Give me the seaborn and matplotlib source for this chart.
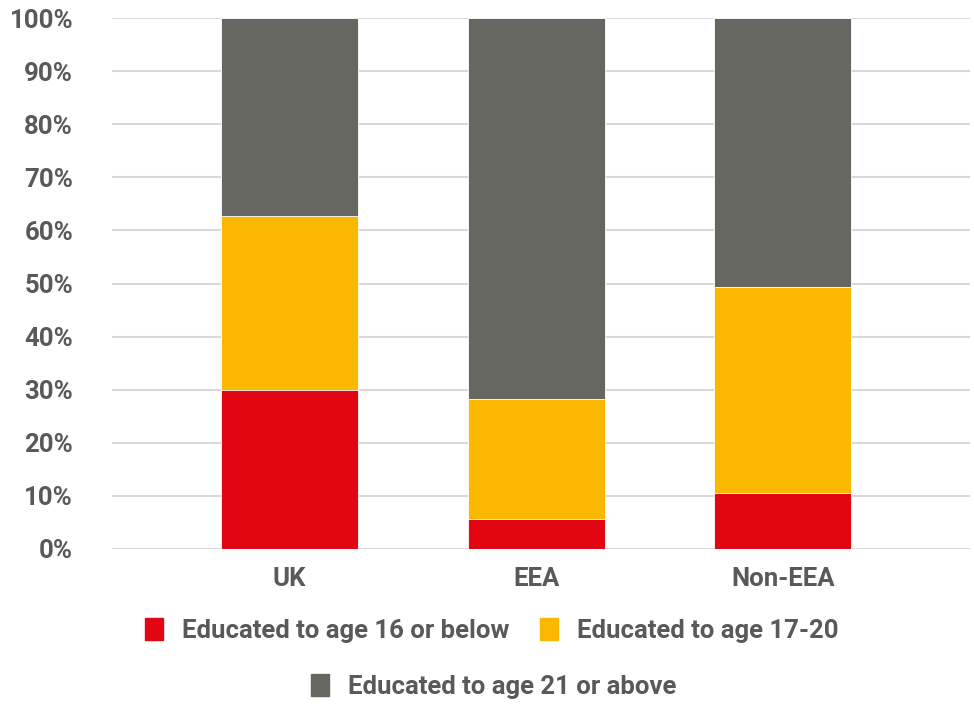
import numpy as np
import pandas as pd
import matplotlib
matplotlib.use('Agg')
import matplotlib.pyplot as plt
import matplotlib.patches as mpatches
import seaborn as sb

regions = ['UK', 'EEA', 'Non-EEA']
age_16_below = [30.0, 5.7, 10.5]
age_17_20 = [32.7, 22.5, 38.8]
age_21_above = [37.3, 71.8, 50.7]
series_names = ['Educated to age 16 or below', 'Educated to age 17-20',
                'Educated to age 21 or above']
colors = ['#E20613', '#FAB800', '#676761']
yticks = list(range(0, 101, 10))

text_color = '#595959'
fsize = 18.5

sb.set_style('white')
plt.rcParams['font.family'] = ['Roboto', 'DejaVu Sans']
plt.rcParams['font.weight'] = 'bold'

df = pd.DataFrame({'region': regions, 'low': age_16_below,
                   'mid': age_17_20, 'high': age_21_above})
df['top_low'] = df['low']
df['top_mid'] = df['low'] + df['mid']
df['top_high'] = df['top_mid'] + df['high']

fig = plt.figure(figsize=(9.74, 7.04), dpi=100)
ax = fig.add_axes([0.115, 0.2202, 0.881, 0.7542])

# draw from the tallest stack down so each segment shows
for col, color in zip(['top_high', 'top_mid', 'top_low'], colors[::-1]):
    sb.barplot(data=df, x='region', y=col, color=color, width=0.555,
               saturation=1, edgecolor='white', linewidth=0.6, ax=ax,
               zorder=3)

ax.set_ylim(0, 100)
ax.set_xlim(-0.72, 2.76)
ax.set_yticks(yticks)
ax.set_yticklabels([f'{t}%' for t in yticks], fontweight='bold')
ax.set_xticks(range(len(regions)))
ax.set_xticklabels(regions, fontweight='bold')
ax.yaxis.grid(True, color='#d9d9d9', linewidth=1.5, zorder=0)
ax.set_axisbelow(True)
for s in ax.spines.values():
    s.set_visible(False)
ax.set_xlabel('')
ax.set_ylabel('')
ax.tick_params(axis='both', length=0, labelsize=fsize, labelcolor=text_color)
ax.tick_params(axis='y', pad=28)
ax.tick_params(axis='x', pad=13)

handles = [mpatches.Patch(color=c, label=n) for c, n in zip(colors, series_names)]
leg_kw = dict(frameon=False, prop={'size': fsize, 'weight': 'bold'},
              handlelength=0.7, handleheight=0.95,
              handletextpad=0.75, labelcolor=text_color)
fig.legend(handles=handles[:2], loc='center', ncol=2,
           bbox_to_anchor=(0.505, 0.105), columnspacing=1.2, **leg_kw)
fig.legend(handles=handles[2:], loc='center', bbox_to_anchor=(0.507, 0.025),
           **leg_kw)

fig.savefig('out.png', dpi=100)
